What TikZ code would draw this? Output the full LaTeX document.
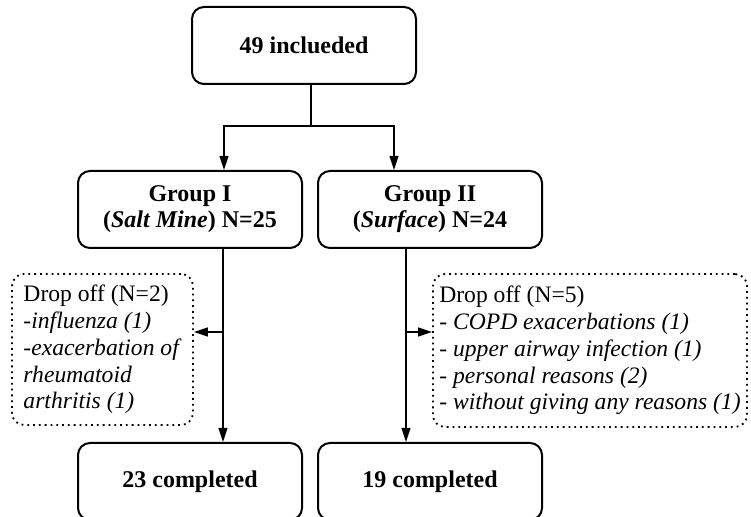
\documentclass[tikz,border=0pt]{standalone}
\usepackage{fontspec}
\setmainfont{Liberation Serif}
\usetikzlibrary{
    positioning, % relative placement
    arrows.meta  % arrow tips
}

\begin{document}
\begin{tikzpicture}[x=0.5pt, y=-0.5pt]

    % --- Styles ---
    \tikzset{
        % Main stage boxes
        stage/.style={
            draw,
            line width=1pt,
            rounded corners=6pt,
            minimum width=112pt,
            minimum height=38.5pt,
            align=center,
            font=\fontsize{12}{13}\selectfont\bfseries
        },
        % Dotted boxes for the drop-offs
        dropbox/.style={
            draw,
            dotted,
            line width=0.9pt,
            rounded corners=6pt,
            align=left,
            inner sep=0pt,
            font=\fontsize{11.8}{13.4}\selectfont
        },
        % Connector lines
        flow/.style={
            line width=0.9pt
        },
        flow_arrow/.style={
            flow,
            -{Triangle[length=7pt, width=4.4pt]}
        }
    }

    \useasboundingbox (0,0) rectangle (751,517);
    \clip (0,0) rectangle (751,517);

    % --- Nodes ---

    % Enrolment
    \node[stage] (incl) at (304,45.5) {49 inclueded};

    % The two groups
    \node[stage] (grp1) at (190,209.5) {Group I\\(\textit{Salt Mine}) N=25};
    \node[stage] (grp2) at (430,209.5) {Group II\\(\textit{Surface}) N=24};

    % Drop-offs
    \node[dropbox, minimum width=90.5pt, minimum height=75.5pt] (drop1) at (102.5,349.5)
        {Drop off (N=2)\\\textit{-influenza (1)}\\\textit{-exacerbation of}\\\textit{rheumatoid}\\\textit{arthritis (1)}};
    \node[dropbox, minimum width=157pt, minimum height=76.5pt] (drop2) at (590,350.5)
        {Drop off (N=5)\\\textit{- COPD exacerbations (1)}\\\textit{- upper airway infection (1)}\\\textit{- personal reasons (2)}\\\textit{- without giving any reasons (1)}};

    % Completed
    \node[stage] (done1) at (190,481.5) {23 completed};
    \node[stage] (done2) at (430,481.5) {19 completed};

    % --- Connectors ---
    \coordinate (split) at (311,126);
    \coordinate (in1) at (224,0);
    \coordinate (in2) at (394,0);
    \coordinate (fork1) at (223,332);
    \coordinate (fork2) at (406,332);

    % Split into the groups
    \draw[flow] (incl.south -| split) -- (split);
    \draw[flow_arrow] (split) -| (grp1.north -| in1);
    \draw[flow_arrow] (split) -| (grp2.north -| in2);

    % Group to completed
    \draw[flow_arrow] (grp1.south -| fork1) -- (done1.north -| fork1);
    \draw[flow_arrow] (grp2.south -| fork2) -- (done2.north -| fork2);

    % Side arrows to the drop-offs
    \draw[flow_arrow] (fork1) -- (drop1.east |- fork1);
    \draw[flow_arrow] (fork2) -- (drop2.west |- fork2);

\end{tikzpicture}
\end{document}
